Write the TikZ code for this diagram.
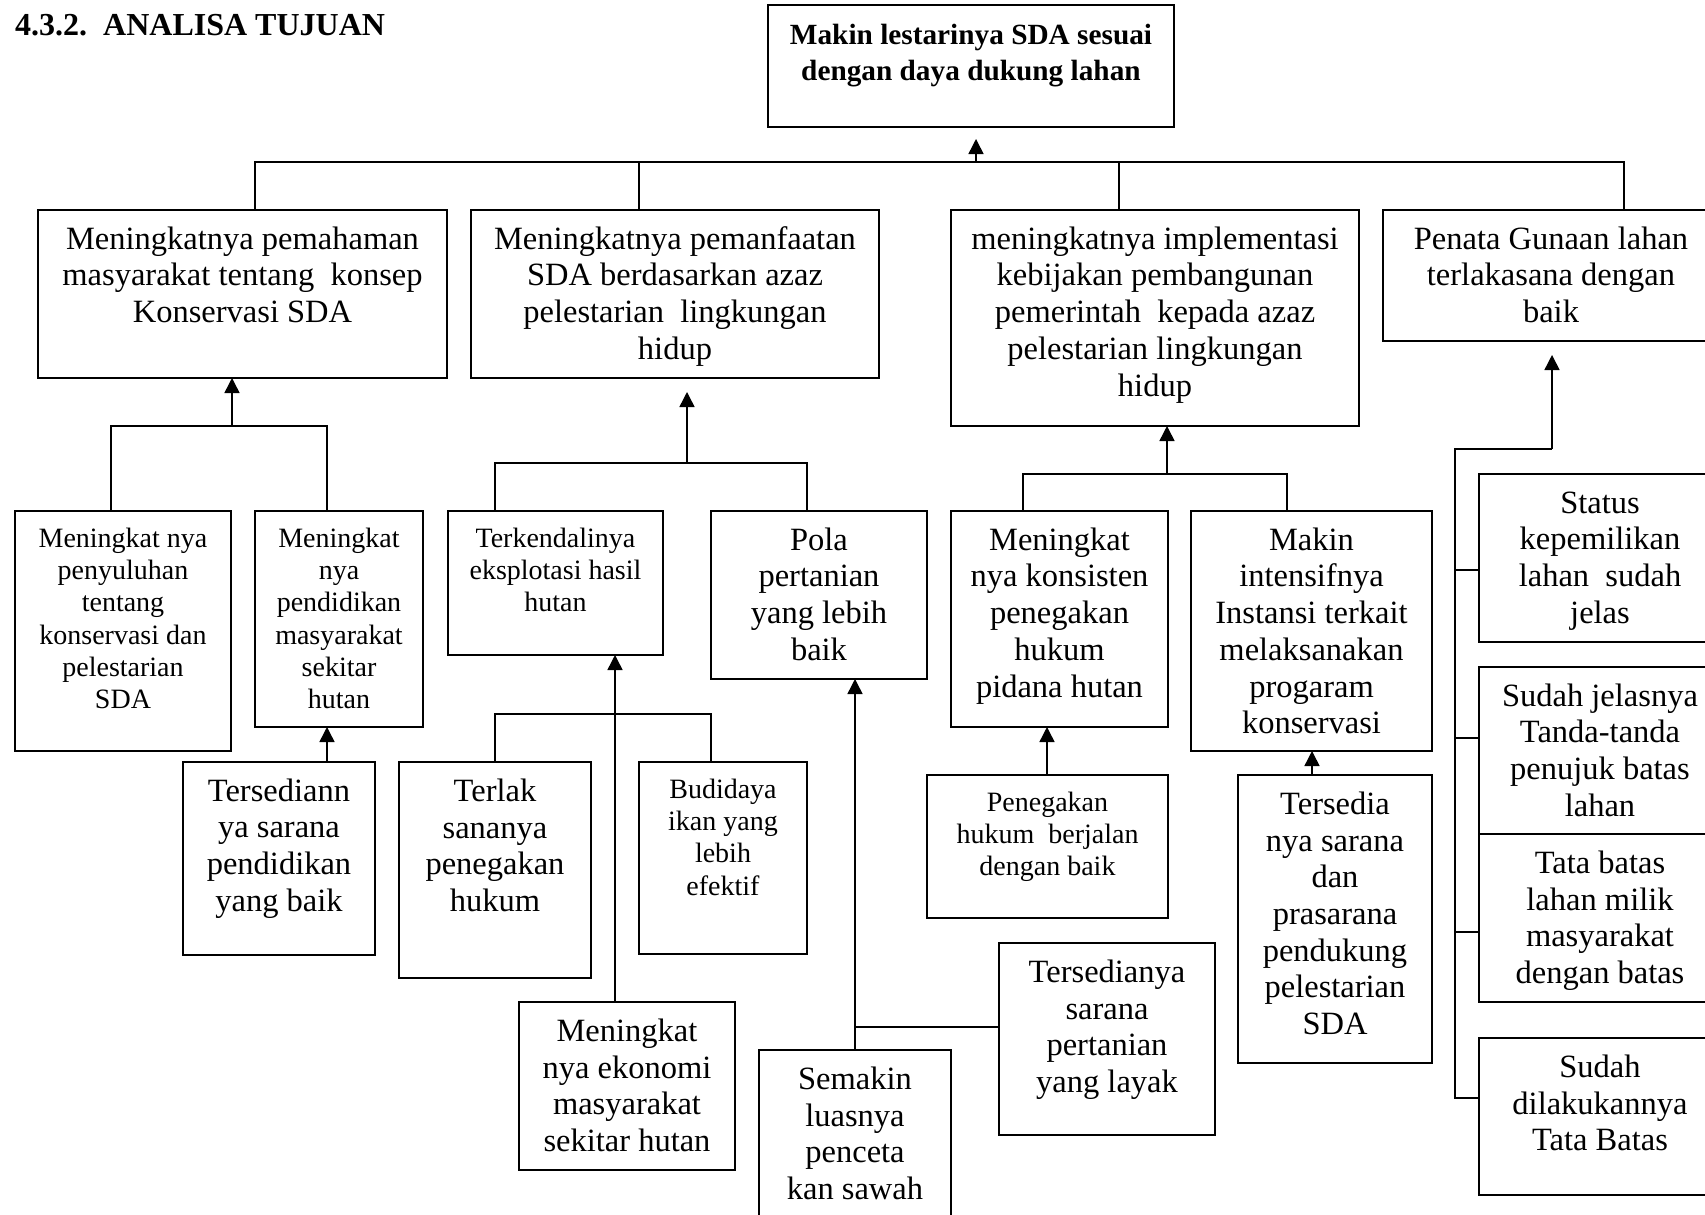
\documentclass[tikz,border=0pt]{standalone}
\usepackage{fontspec}
\setmainfont{Liberation Serif}
\usetikzlibrary{arrows.meta}

% text sizes used inside the boxes
\newcommand\fsA{\fontsize{32.5}{36.7}\selectfont}
\newcommand\fsB{\fontsize{28}{32.3}\selectfont}
\newcommand\fsT{\fontsize{29.3}{36.7}\selectfont\bfseries}

\tikzset{
  box/.style={draw, line width=1.5pt, inner sep=0pt, outer sep=0pt},
  conn/.style={line width=1.5pt},
  arr/.style={line width=1.5pt, -{Triangle[width=15pt,length=15pt]}},
}

% goal box: name, left, top, right, bottom, font, lines of text (top aligned)
\newcommand\goalbox[7]{%
  \node[box] (#1) at ({(#2+#4)/2},{(#3+#5)/2})
    {\parbox[c][\dimexpr#5pt-#3pt\relax][t]{\dimexpr#4pt-#2pt\relax}%
      {\centering#6\vspace*{13.6pt}\strut#7\par}};}

\begin{document}
\begin{tikzpicture}[x=1pt,y=-1pt]
\useasboundingbox (0,0) rectangle (1705,1215);
\clip (0,0) rectangle (1705,1215);
\fill[white] (0,0) rectangle (1705,1215);

% heading
\node[anchor=base west, inner sep=0pt] (title) at (15,36)
  {\fontsize{32}{36}\selectfont\bfseries 4.3.2.\ \ ANALISA TUJUAN};

% main goal
\goalbox{T}{768}{5}{1174}{127}{\fsT}{Makin lestarinya SDA sesuai\\dengan daya dukung lahan}

% first level
\goalbox{A1}{38}{210}{447}{378}{\fsA}{Meningkatnya pemahaman\\masyarakat tentang\ \ konsep\\Konservasi SDA}
\goalbox{A2}{471}{210}{879}{378}{\fsA}{Meningkatnya pemanfaatan\\SDA berdasarkan azaz\\pelestarian\ \ lingkungan\\hidup}
\goalbox{A3}{951}{210}{1359}{426}{\fsA}{meningkatnya implementasi\\kebijakan pembangunan\\pemerintah\ \ kepada azaz\\pelestarian lingkungan\\hidup}
\goalbox{A4}{1383}{210}{1719}{341}{\fsA}{Penata Gunaan lahan\\terlakasana dengan\\baik}

% second level
\goalbox{B1}{15}{511}{231}{751}{\fsB}{Meningkat nya\\penyuluhan\\tentang\\konservasi dan\\pelestarian\\SDA}
\goalbox{B2}{255}{511}{423}{727}{\fsB}{Meningkat\\nya\\pendidikan\\masyarakat\\sekitar\\hutan}
\goalbox{B3}{448}{511}{663}{655}{\fsB}{Terkendalinya\\eksplotasi hasil\\hutan}
\goalbox{B4}{711}{511}{927}{679}{\fsA}{Pola\\pertanian\\yang lebih\\baik}
\goalbox{B5}{951}{511}{1168}{727}{\fsA}{Meningkat\\nya konsisten\\penegakan\\hukum\\pidana hutan}
\goalbox{B6}{1191}{511}{1432}{751}{\fsA}{Makin\\intensifnya\\Instansi terkait\\melaksanakan\\progaram\\konservasi}

% third level
\goalbox{C1}{183}{762}{375}{955}{\fsA}{Tersediann\\ya sarana\\pendidikan\\yang baik}
\goalbox{TL}{399}{762}{591}{978}{\fsA}{Terlak\\sananya\\penegakan\\hukum}
\goalbox{BD}{639}{762}{807}{954}{\fsB}{Budidaya\\ikan yang\\lebih\\efektif}
\goalbox{EK}{519}{1002}{735}{1170}{\fsA}{Meningkat\\nya ekonomi\\masyarakat\\sekitar hutan}
\goalbox{SM}{759}{1050}{951}{1240}{\fsA}{Semakin\\luasnya\\penceta\\kan sawah}
\goalbox{TS}{999}{943}{1215}{1135}{\fsA}{Tersedianya\\sarana\\pertanian\\yang layak}
\goalbox{PH}{927}{775}{1168}{918}{\fsB}{Penegakan\\hukum\ \ berjalan\\dengan baik}
\goalbox{C6}{1238}{775}{1432}{1063}{\fsA}{Tersedia\\nya sarana\\dan\\prasarana\\pendukung\\pelestarian\\SDA}

% land use sub-goals
\goalbox{D1}{1479}{474}{1721}{642}{\fsA}{Status\\kepemilikan\\lahan\ \ sudah\\jelas}
\goalbox{D2}{1479}{667}{1721}{834}{\fsA}{Sudah jelasnya\\Tanda-tanda\\penujuk batas\\lahan}
\goalbox{D3}{1479}{834}{1721}{1002}{\fsA}{Tata batas\\lahan milik\\masyarakat\\dengan batas}
\goalbox{D4}{1479}{1038}{1721}{1195}{\fsA}{Sudah\\dilakukannya\\Tata Batas}

% top bus to the main goal
\coordinate (busL) at (255,162);
\coordinate (busR) at (1624,162);
\coordinate (busA2) at (639,162);
\coordinate (busA3) at (1119,162);
\coordinate (busT) at (976,162);
\draw[conn] (busL |- A1.north) -- (busL) -- (busR) -- (busR |- A4.north);
\draw[conn] (busA2) -- (busA2 |- A2.north);
\draw[conn] (busA3) -- (busA3 |- A3.north);
\draw[arr, shorten >=12pt] (busT) -- (busT |- T.south);

% branch under A1
\coordinate (j1) at (232,426);
\coordinate (j1l) at (111,426);
\coordinate (j1r) at (327,426);
\draw[arr] (j1) -- (j1 |- A1.south);
\draw[conn] (j1l |- B1.north) -- (j1l) -- (j1r) -- (j1r |- B2.north);
\draw[arr] (j1r |- C1.north) -- (j1r |- B2.south);

% branch under A2
\coordinate (j2) at (687,463);
\coordinate (j2l) at (495,463);
\coordinate (j2r) at (807,463);
\draw[arr, shorten >=14pt] (j2) -- (j2 |- A2.south);
\draw[conn] (j2l |- B3.north) -- (j2l) -- (j2r) -- (j2r |- B4.north);
\coordinate (j3l) at (495,714);
\coordinate (j3r) at (711,714);
\coordinate (j3m) at (615,714);
\draw[conn] (j3l |- TL.north) -- (j3l) -- (j3r) -- (j3r |- BD.north);
\draw[arr] (j3m |- EK.north) -- (j3m |- B3.south);
\coordinate (j4) at (855,1027);
\draw[arr] (j4 |- SM.north) -- (j4 |- B4.south);
\draw[conn] (j4) -- (j4 -| TS.west);

% branch under A3
\coordinate (j5) at (1167,474);
\coordinate (j5l) at (1023,474);
\coordinate (j5r) at (1287,474);
\draw[arr] (j5) -- (j5 |- A3.south);
\draw[conn] (j5l |- B5.north) -- (j5l) -- (j5r) -- (j5r |- B6.north);
\coordinate (k5) at (1047,0);
\coordinate (k6) at (1312,0);
\draw[arr] (k5 |- PH.north) -- (k5 |- B5.south);
\draw[arr] (k6 |- C6.north) -- (k6 |- B6.south);

% branch under A4
\coordinate (j6) at (1552,449);
\coordinate (j6l) at (1455,449);
\coordinate (j6b) at (1455,1098);
\coordinate (d1) at (1455,570);
\coordinate (d2) at (1455,738);
\coordinate (d3) at (1455,932);
\draw[arr, shorten >=14pt] (j6) -- (j6 |- A4.south);
\draw[conn] (j6) -- (j6l) -- (j6b) -- (j6b -| D4.west);
\draw[conn] (d1) -- (d1 -| D1.west);
\draw[conn] (d2) -- (d2 -| D2.west);
\draw[conn] (d3) -- (d3 -| D3.west);
\end{tikzpicture}
\end{document}
